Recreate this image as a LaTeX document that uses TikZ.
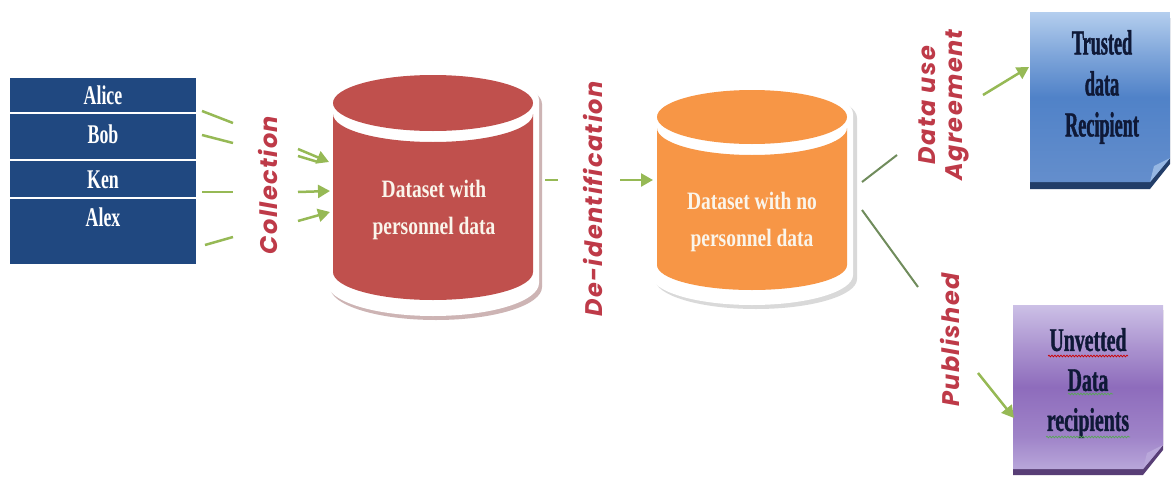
\documentclass[tikz,border=0pt]{standalone}
\usepackage{fontspec}
\setmainfont{Liberation Serif}
\newfontfamily\lblfont{Poppins}[LetterSpace=6]
\newfontfamily\fsA{Liberation Serif}[FakeStretch=0.66]
\newfontfamily\fsB{Liberation Serif}[FakeStretch=0.78]
\newfontfamily\fsC{Liberation Serif}[FakeStretch=0.52,FakeBold=1.2]
\newfontfamily\fsD{Liberation Serif}[FakeStretch=0.6,FakeBold=1]
\usetikzlibrary{arrows.meta,decorations.pathmorphing}
\definecolor{tabnavy}{RGB}{32,72,128}
\definecolor{cylred}{RGB}{192,80,77}
\definecolor{cylorange}{RGB}{247,150,70}
\definecolor{arrgreen}{RGB}{150,185,85}
\definecolor{branchgreen}{RGB}{112,140,92}
\definecolor{lblred}{RGB}{190,58,72}
\definecolor{txtnavy}{RGB}{15,25,55}
\definecolor{cream}{RGB}{250,245,235}
\definecolor{shadowpink}{RGB}{205,180,180}
\definecolor{bluetop}{RGB}{180,206,238}
\definecolor{bluemid}{RGB}{80,130,200}
\definecolor{bluebot}{RGB}{100,142,204}
\definecolor{blueshadow}{RGB}{35,62,105}
\definecolor{purtop}{RGB}{204,192,230}
\definecolor{purmid}{RGB}{142,108,188}
\definecolor{purbot}{RGB}{184,166,218}
\definecolor{purshadow}{RGB}{88,62,118}
\pgfdeclareverticalshading{blueshade}{100bp}{color(0bp)=(bluebot); color(25bp)=(bluebot); color(50bp)=(bluemid); color(62bp)=(bluetop!45!bluemid); color(75bp)=(bluetop); color(100bp)=(bluetop)}
\pgfdeclareverticalshading{purshade}{100bp}{color(0bp)=(purbot); color(25bp)=(purbot); color(35bp)=(purmid!60!purbot); color(50bp)=(purmid); color(63bp)=(purmid!50!purtop); color(75bp)=(purtop); color(100bp)=(purtop)}
\tikzset{
  person/.style={text=white, font=\fsA\fontsize{27}{28}\selectfont\bfseries},
  cyltext/.style={text=cream, align=center, font=\fsB\fontsize{25}{37}\selectfont\bfseries},
  lbl/.style={rotate=90, text=lblred, align=center, font=\lblfont\fontsize{24}{27}\selectfont\bfseries\itshape},
  boxtext/.style={text=txtnavy, align=center},
  flow/.style={draw=arrgreen, line width=2.5pt},
  arr/.style={flow, -{Triangle[length=12pt,width=13pt]}},
  branch/.style={draw=branchgreen, line width=2pt},
  wavy/.style={decorate, decoration={snake, amplitude=0.9pt, segment length=3pt}, line width=0.7pt},
}
\begin{document}
\begin{tikzpicture}[x=1pt,y=1pt]
\useasboundingbox[fill=white] (0,0) rectangle (1171,-477);

% ---------- table of persons
\fill[tabnavy] (10,-78) rectangle (196,-264);
\draw[white, line width=2pt] (10,-113) -- (196,-113);
\draw[white, line width=2pt] (10,-159.5) -- (196,-159.5);
\draw[white, line width=2pt] (10,-198) -- (196,-198);
\node[person] (alice) at (103,-95) {Alice};
\node[person] (bob) at (103,-134) {Bob};
\node[person] (ken) at (103,-180) {Ken};
\node[person] (alex) at (103,-217) {Alex};

% ---------- red cylinder
\fill[shadowpink] (330,-287) -- (330,-104) arc[start angle=180,end angle=0,x radius=106,y radius=31]
   -- (542,-287) arc[start angle=0,end angle=-180,x radius=106,y radius=33] -- cycle;
\fill[white] (327,-283) -- (327,-100) arc[start angle=180,end angle=0,x radius=106,y radius=31]
   -- (539,-283) arc[start angle=0,end angle=-180,x radius=106,y radius=33] -- cycle;
\fill[cylred] (433,-103) ellipse[x radius=100,y radius=28];
\fill[cylred] (333,-114) arc[start angle=180,end angle=360,x radius=100,y radius=28]
   -- (533,-272) arc[start angle=0,end angle=-180,x radius=100,y radius=28] -- cycle;
\node[cyltext] (ds1) at (434,-210) {Dataset with\\personnel data};

% ---------- orange cylinder
\fill[gray!30] (655,-279) -- (655,-118) arc[start angle=180,end angle=0,x radius=101,y radius=31]
   -- (857,-279) arc[start angle=0,end angle=-180,x radius=101,y radius=30] -- cycle;
\fill[white] (651,-275) -- (651,-114) arc[start angle=180,end angle=0,x radius=101,y radius=31]
   -- (853,-275) arc[start angle=0,end angle=-180,x radius=101,y radius=30] -- cycle;
\fill[cylorange] (752,-117) ellipse[x radius=95,y radius=27];
\fill[cylorange] (657,-128) arc[start angle=180,end angle=360,x radius=95,y radius=27]
   -- (847,-265) arc[start angle=0,end angle=-180,x radius=95,y radius=25] -- cycle;
\node[cyltext] (ds2) at (752,-222) {Dataset with no\\personnel data};

% ---------- recipient boxes
\fill[blueshadow] (1030,-18) -- (1170,-18) -- (1170,-164) -- (1150,-189) -- (1030,-189) -- cycle;
\shade[shading=blueshade]
   (1030,-12) -- (1170,-12) -- (1170,-158) -- (1150,-182) -- (1030,-182) -- cycle;
\fill[bluetop!70!bluemid] (1150,-182) -- (1154,-166) -- (1170,-158) -- cycle;
\node[boxtext, font=\fsC\fontsize{35}{41}\selectfont\bfseries] (trusted) at (1102,-87) {Trusted\\data\\Recipient};

\fill[purshadow] (1013,-310) -- (1163,-310) -- (1163,-450) -- (1143,-475) -- (1013,-475) -- cycle;
\shade[shading=purshade]
   (1013,-305) -- (1163,-305) -- (1163,-445) -- (1143,-469) -- (1013,-469) -- cycle;
\fill[purtop!70!purmid] (1143,-469) -- (1147,-453) -- (1163,-445) -- cycle;
\node[boxtext, font=\fsD\fontsize{33}{40}\selectfont\bfseries] (unvetted) at (1088,-383) {Unvetted\\Data\\recipients};
\draw[wavy, red!80!black] (1048,-356) -- (1128,-356);
\draw[wavy, gray!70!green] (1068,-394) -- (1113,-394);
\draw[wavy, gray!70!green] (1046,-437) -- (1130,-437);

% ---------- labels
\node[lbl] (collection) at (268,-185) {Collection};
\node[lbl] (deid) at (593,-199) {De-identification};
\node[lbl] (dua) at (944,-105) {Data use\\Agreement};
\node[lbl] (published) at (950,-340) {Published};

% ---------- connectors
\coordinate (c1a) at (202,-111); \coordinate (c1b) at (233,-123);
\coordinate (c2a) at (202,-135); \coordinate (c2b) at (233,-143);
\coordinate (c3a) at (202,-192); \coordinate (c3b) at (233,-192);
\coordinate (c4a) at (205,-245); \coordinate (c4b) at (233,-237);
\draw[flow] (c1a) -- (c1b);
\draw[flow] (c2a) -- (c2b);
\draw[flow] (c3a) -- (c3b);
\draw[flow] (c4a) -- (c4b);
\coordinate (a1a) at (298,-149); \coordinate (a1b) at (329,-162);
\coordinate (a0a) at (298,-156); \coordinate (a0b) at (318,-162);
\coordinate (a2a) at (298,-192); \coordinate (a2b) at (330,-191);
\coordinate (a3a) at (298,-221); \coordinate (a3b) at (330,-212);
\draw[flow] (a0a) -- (a0b);
\draw[arr] (a1a) -- (a1b);
\draw[arr] (a2a) -- (a2b);
\draw[arr] (a3a) -- (a3b);

\coordinate (d1a) at (545,-180); \coordinate (d1b) at (558,-180);
\coordinate (d2a) at (620,-180); \coordinate (d2b) at (653,-180);
\draw[flow] (d1a) -- (d1b);
\draw[arr] (d2a) -- (d2b);

\coordinate (b1a) at (862,-182); \coordinate (b1b) at (897,-155);
\coordinate (b2a) at (862,-210); \coordinate (b2b) at (918,-287);
\draw[branch] (b1a) -- (b1b);
\draw[branch] (b2a) -- (b2b);
\coordinate (t1) at (983,-95); \coordinate (t2) at (1029,-67);
\coordinate (u1) at (978,-373); \coordinate (u2) at (1014,-418);
\draw[arr] (t1) -- (t2);
\draw[arr] (u1) -- (u2);
\end{tikzpicture}
\end{document}
